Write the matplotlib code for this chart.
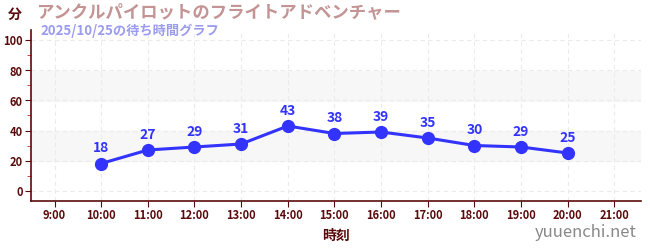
import numpy as np
import matplotlib
matplotlib.use('Agg')
import matplotlib.pyplot as plt

plt.rcParams['font.family'] = ['Noto Sans CJK JP', 'DejaVu Sans']

# データ
hours = [10, 11, 12, 13, 14, 15, 16, 17, 18, 19, 20]
waits = [18, 27, 29, 31, 43, 38, 39, 35, 30, 29, 25]
tick_hours = list(range(9, 22))
tick_labels = [f'{h}:00' for h in tick_hours]

dark = '#5a0a0a'
blue = '#3333ff'

fig = plt.figure(figsize=(6.5, 2.5), dpi=100)
ax = fig.add_axes([0.048, 0.196, 0.938, 0.684])

# 背景の帯
for lo, hi in [(20, 40), (60, 80)]:
    ax.axhspan(lo, hi, color='#f7f7f7', zorder=0)

ax.plot(hours, waits, color=blue, lw=2.2, marker='o', ms=8.5, zorder=3)
for h, w in zip(hours, waits):
    ax.annotate(str(w), (h, w), xytext=(0, 6), textcoords='offset points',
                ha='center', va='bottom', color=blue, fontsize=10, fontweight='bold')

ax.set_xlim(8.5, 21.57)
ax.set_ylim(-7, 107)
ax.set_xticks(tick_hours)
ax.set_xticklabels(tick_labels)
ax.set_yticks(range(0, 101, 20))
ax.set_yticks(range(10, 100, 20), minor=True)
ax.grid(True, which='major', color='#ebebeb', ls=(0, (4, 3)), lw=0.8)
ax.set_axisbelow(True)

for s in ['top', 'right']:
    ax.spines[s].set_visible(False)
for s in ['left', 'bottom']:
    ax.spines[s].set_color(dark)
    ax.spines[s].set_linewidth(1.2)

ax.tick_params(axis='both', which='major', colors=dark, labelsize=8, length=4, pad=2)
ax.tick_params(axis='y', which='minor', colors='#cc2222', length=3)
for lab in ax.get_xticklabels() + ax.get_yticklabels():
    lab.set_fontweight('bold')

ax.set_xlabel('時刻', color=dark, fontsize=10, fontweight='bold', labelpad=5)

fig.text(0.012, 0.94, '分', color=dark, fontsize=10, fontweight='bold', va='center')
fig.text(0.055, 0.952, 'アンクルパイロットのフライトアドベンチャー', color='#c49494',
         fontsize=12.5, fontweight='bold', va='center')
fig.text(0.062, 0.875, '2025/10/25の待ち時間グラフ', color='#9b9bf0',
         fontsize=9.5, fontweight='bold', va='center')
fig.text(0.98, 0.07, 'yuuenchi.net', color='#888888', fontsize=12, ha='right', va='center')

fig.savefig('out.png', dpi=100)
